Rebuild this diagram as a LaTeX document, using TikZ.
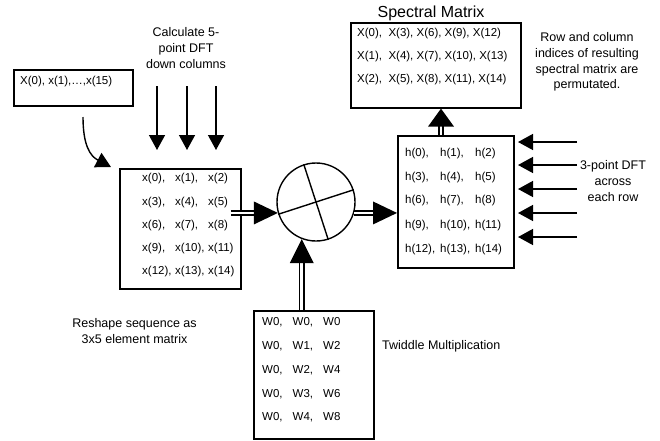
\documentclass[tikz,border=0pt]{standalone}
\usepackage{fontspec}
\setmainfont{Liberation Sans}
\usetikzlibrary{arrows.meta,calc}
\newcommand{\tcol}[4]{\makebox[#1][l]{#2}\makebox[#1][l]{#3}#4}
\begin{document}
\begin{tikzpicture}[x=1pt,y=-1pt,
  box/.style={draw, line width=1.6pt, inner sep=0pt, anchor=north west},
  lbl/.style={font=\fontsize{12.5}{15.7}\selectfont, align=center, inner sep=0pt},
  ent/.style={font=\fontsize{11.5}{13}\selectfont, inner sep=0pt, anchor=west},
  arr/.style={line width=1.4pt, -{Triangle[length=15pt,width=16pt]}},
  dbl/.style={double, double distance=2.6pt, line width=1.5pt},
]
\useasboundingbox (0,0) rectangle (660,440);

% input sequence box
\node[box, minimum width=119pt, minimum height=36pt] (xin) at (13,69) {};
\node[ent] (xint) at (20,82) {X(0), x(1),…,x(15)};

% 5-point DFT label and arrows
\node[lbl] (calc) at (186,48) {Calculate 5-\\point DFT\\down columns};

% x matrix
\node[box, minimum width=121pt, minimum height=120pt] (xbox) at (119,168) {};
\node[ent] (xr1) at (142,179)   {\tcol{33pt}{x(0),}{x(1),}{x(2)}};
\node[ent] (xr2) at (142,202.5) {\tcol{33pt}{x(3),}{x(4),}{x(5)}};
\node[ent] (xr3) at (142,225.5) {\tcol{33pt}{x(6),}{x(7),}{x(8)}};
\node[ent] (xr4) at (142,249)   {\tcol{33pt}{x(9),}{x(10),}{x(11)}};
\node[ent] (xr5) at (142,272)   {\tcol{33pt}{x(12),}{x(13),}{x(14)}};

\coordinate (d1s) at (157,86);  \coordinate (d1e) at (157,150);
\coordinate (d2s) at (187,86);  \coordinate (d2e) at (187,150);
\coordinate (d3s) at (216,86);  \coordinate (d3e) at (216,150);
\draw[arr] (d1s) -- (d1e);
\draw[arr] (d2s) -- (d2e);
\draw[arr] (d3s) -- (d3e);

% curved arrow from input box
\coordinate (cs) at (83,117);
\coordinate (ce) at (111,167);
\draw[arr] (cs) .. controls (83,145) and (90,156) .. (ce);

\node[lbl] (reshape) at (134.5,331) {Reshape sequence as\\3x5 element matrix};

% multiplier
\node[draw, circle, line width=1.4pt, minimum size=78pt, inner sep=0pt] (mul) at (316,202) {};
\draw[line width=1.4pt] (mul.198) -- (mul.18);
\draw[line width=1.4pt] (mul.108) -- (mul.288);

% twiddle box
\node[box, minimum width=120pt, minimum height=128pt] (wbox) at (253,310) {};
\node[ent] (wr1) at (262,322) {\tcol{30.5pt}{W0,}{W0,}{W0}};
\node[ent] (wr2) at (262,346) {\tcol{30.5pt}{W0,}{W1,}{W2}};
\node[ent] (wr3) at (262,370) {\tcol{30.5pt}{W0,}{W2,}{W4}};
\node[ent] (wr4) at (262,394) {\tcol{30.5pt}{W0,}{W3,}{W6}};
\node[ent] (wr5) at (262,417) {\tcol{30.5pt}{W0,}{W4,}{W8}};
\node[lbl, anchor=west] (twid) at (382,346) {Twiddle Multiplication};

% h matrix
\node[box, minimum width=116pt, minimum height=132pt] (hbox) at (397,135) {};
\node[ent] (hr1) at (405,154) {\tcol{35pt}{h(0),}{h(1),}{h(2)}};
\node[ent] (hr2) at (405,178) {\tcol{35pt}{h(3),}{h(4),}{h(5)}};
\node[ent] (hr3) at (405,201) {\tcol{35pt}{h(6),}{h(7),}{h(8)}};
\node[ent] (hr4) at (405,226) {\tcol{35pt}{h(9),}{h(10),}{h(11)}};
\node[ent] (hr5) at (405,250) {\tcol{35pt}{h(12),}{h(13),}{h(14)}};

% spectral matrix
\node[font=\fontsize{16}{18}\selectfont, inner sep=0pt] (title) at (431,13) {Spectral Matrix};
\node[box, minimum width=170pt, minimum height=85pt] (sbox) at (350,22) {};
\node[ent] (sr1) at (357,34) {X(0),~ X(3), X(6), X(9), X(12)};
\node[ent] (sr2) at (357,57) {X(1),~ X(4), X(7), X(10), X(13)};
\node[ent] (sr3) at (357,80) {X(2),~ X(5), X(8), X(11), X(14)};
\node[lbl] (perm) at (587,62) {Row and column\\indices of resulting\\spectral matrix are\\permutated.};

% 3-point DFT arrows
\node[lbl] (three) at (613,181) {3-point DFT\\across\\each row};
\foreach \yy [count=\i] in {142,165,189,213,237}{
  \coordinate (r\i s) at (577,\yy);
  \coordinate (r\i e) at (518,\yy);
  \draw[arr] (r\i s) -- (r\i e);
}

% double arrows with solid heads
\coordinate (lt) at (mul.196);
\draw[dbl] ($(xbox.east |- lt)+(-11,0)$) -- ($(lt)+(-22,0)$);
\fill (lt) -- ($(lt)+(-24,-11.5)$) -- ($(lt)+(-24,11.5)$) -- cycle;

\coordinate (rs) at (mul.-16);
\coordinate (rt) at (hbox.west |- rs);
\draw[dbl] (rs) -- ($(rt)+(-22,0)$);
\fill (rt) -- ($(rt)+(-24,-11.5)$) -- ($(rt)+(-24,11.5)$) -- cycle;

\coordinate (ut) at (mul.249);
\coordinate (ub) at (ut |- wbox.north);
\draw[dbl] (ub) -- ($(ut)+(0,22)$);
\fill (ut) -- ($(ut)+(-12,24)$) -- ($(ut)+(12,24)$) -- cycle;

\coordinate (sb) at (441,0);
\coordinate (st) at (sb |- sbox.south);
\draw[dbl] (sb |- hbox.north) -- ($(st)+(0,16)$);
\fill (st) -- ($(st)+(-13,18)$) -- ($(st)+(13,18)$) -- cycle;
\end{tikzpicture}
\end{document}
